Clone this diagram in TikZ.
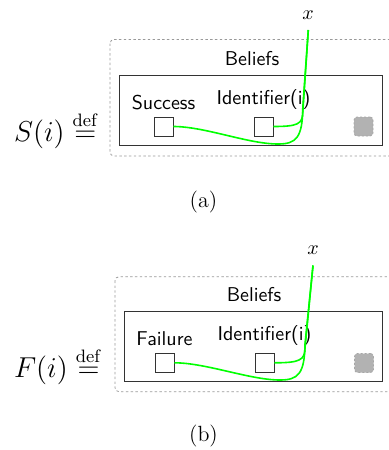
\documentclass[tikz,border=0pt]{standalone}
\usepackage{amsmath, amssymb}
\usepackage{tikz}

\begin{document}
\begin{tikzpicture}[x=0.5pt,y=-0.5pt,font=\sffamily]
\tikzstyle{slot}=[rectangle,draw=black!80,fill=white,minimum size=9.5pt,inner sep=0pt,label distance=2pt]
\tikzstyle{spare}=[rectangle,rounded corners=1.5pt,draw=gray!70,dash pattern=on 1pt off 1pt,fill=gray!60,minimum size=9.5pt,inner sep=0pt]
\tikzstyle{frame}=[draw=gray!80,dash pattern=on 1.2pt off 1.2pt,rounded corners=2pt,line width=0.4pt]
\tikzstyle{store}=[draw=black!80,line width=0.5pt]
\tikzstyle{wire}=[draw=green,line width=0.8pt]
\tikzstyle{defn}=[anchor=west,font=\fontsize{13.5pt}{16pt}\selectfont]
\useasboundingbox (0,0) rectangle (388,450);

% (a)
\begin{scope}
\draw[frame] (110,39.5) rectangle (400,156);
\draw[store] (119.5,75.5) rectangle (382.5,145.5);
\node (bel1) at (252,59) {Beliefs};
\node[slot,label=above:Success] (succ) at (163.5,126.5) {};
\node[slot,label=above:Identifier(i)] (id1) at (263.5,126.5) {};
\node[spare] (sp1) at (363.5,126.5) {};
\node (xl1) at (308,15) {$x$};
\coordinate (x1) at (308.3,30);
\node[defn] (s) at (7,130) {$S(i) \stackrel{\mathrm{def}}{=}$};
\node[font=\fontsize{11pt}{13pt}\selectfont] (capa) at (203.5,202.5) {(a)};

\draw[wire] (x1) -- (302.8,112) .. controls (302.6,124) and (298,126.5) .. (id1.east);
\draw[wire] (x1) -- (302.8,108) .. controls (302.4,138) and (296,144) .. (278,144)
  .. controls (248,144) and (205,126.5) .. (succ.east);
\end{scope}

% (b)
\begin{scope}
\draw[frame] (115,276.7) rectangle (400,391.7);
\draw[store] (124,311.7) rectangle (382.7,381.7);
\node (bel2) at (254,295) {Beliefs};
\node[slot,label=above:Failure] (fail) at (164.5,362.8) {};
\node[slot,label=above:Identifier(i)] (id2) at (264.5,362.8) {};
\node[spare] (sp2) at (364,363) {};
\node (xl2) at (313,250.5) {$x$};
\coordinate (x2) at (313,265.5);
\node[defn] (f) at (7,366) {$F(i) \stackrel{\mathrm{def}}{=}$};
\node[font=\fontsize{11pt}{13pt}\selectfont] (capb) at (203.5,436) {(b)};

\draw[wire] (x2) -- (305,348) .. controls (304.8,360) and (300,362.8) .. (id2.east);
\draw[wire] (x2) -- (305,344) .. controls (304.6,374) and (298,380) .. (280,380)
  .. controls (250,380) and (206,362.8) .. (fail.east);
\end{scope}
\end{tikzpicture}
\end{document}
